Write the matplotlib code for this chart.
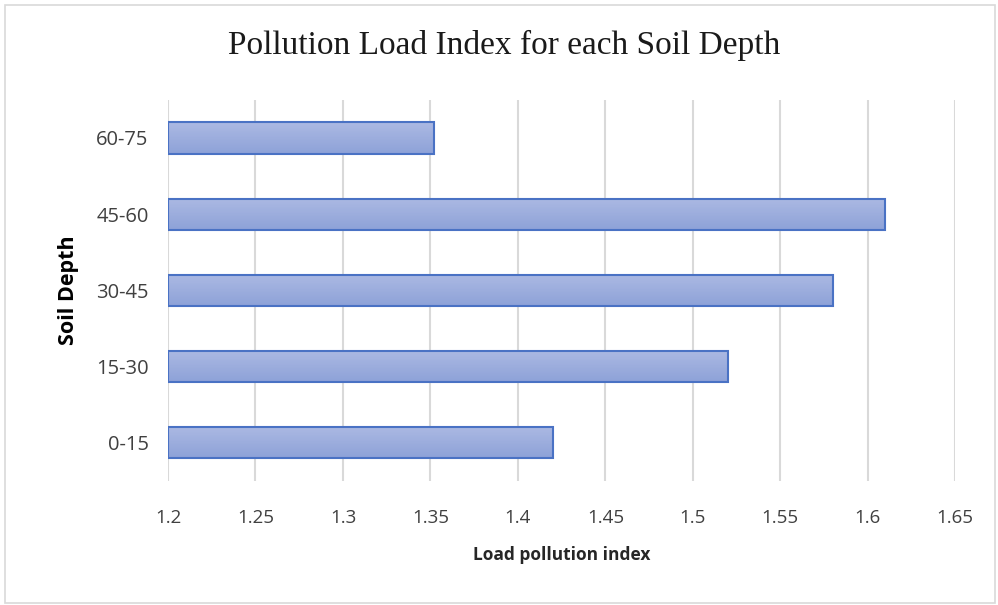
# -*- coding: utf-8 -*-
# Pollution Load Index for each Soil Depth - horizontal bar chart
import matplotlib.pyplot as plt
from matplotlib.patches import Rectangle
import numpy as np

# %% Data
depths = ['0-15', '15-30', '30-45', '45-60', '60-75']
pli = [1.42, 1.52, 1.58, 1.61, 1.352]
xticks = [1.2, 1.25, 1.3, 1.35, 1.4, 1.45, 1.5, 1.55, 1.6, 1.65]

label_font = ['Open Sans', 'DejaVu Sans']

# %% Figure
fig = plt.figure(figsize=(9.98, 6.05), dpi=100)
ax = fig.add_axes([0.1683, 0.205, 0.7889, 0.630])

ypos = np.arange(len(depths))
bars = ax.barh(ypos, [v - 1.2 for v in pli], left=1.2, height=0.41,
               color='#9DAEDF', edgecolor='#4A72C4', linewidth=1.5, zorder=3)

# léger dégradé vertical sur chaque barre (clair en haut, plus foncé en bas)
grad = np.linspace(0, 1, 50).reshape(-1, 1)
cmap = plt.matplotlib.colors.LinearSegmentedColormap.from_list('g', ['#8DA2D8', '#ACB9E3'])
for b in bars:
    x0, y0 = b.get_x(), b.get_y()
    w, h = b.get_width(), b.get_height()
    im = ax.imshow(grad, cmap=cmap, aspect='auto', extent=(x0, x0 + w, y0, y0 + h),
                   origin='lower', zorder=2.5)
    im.set_clip_path(b)
    b.set_facecolor('none')

ax.set_xlim(1.2, 1.65)
ax.set_ylim(-0.5, len(depths) - 0.5)
ax.set_xticks(xticks)
ax.set_xticklabels([f'{t:g}' for t in xticks], family=label_font, fontsize=13.5, color='#404040')
ax.set_yticks(ypos)
ax.set_yticklabels(depths, family=label_font, fontsize=14.5, color='#404040')
ax.tick_params(axis='x', length=0, pad=20)
ax.tick_params(axis='y', length=0, pad=14)
ax.xaxis.grid(True, color='#D9D9D9', linewidth=1.5, zorder=0)
for s in ax.spines.values():
    s.set_visible(False)

ax.set_xlabel('Load pollution index', family=label_font, fontsize=12.5,
              fontweight='bold', color='#262626', labelpad=14)
ax.set_ylabel('Soil Depth', family=label_font, fontsize=15.5,
              fontweight='bold', color='#000000', labelpad=12)
fig.text(0.505, 0.925, 'Pollution Load Index for each Soil Depth', ha='center', va='center',
         family=['Liberation Serif', 'DejaVu Serif'], fontsize=24, color='#1a1a1a')

# cadre de la figure
fig.patches.append(Rectangle((0.005, 0.003), 0.992, 0.988, transform=fig.transFigure,
                             fill=False, edgecolor='#D9D9D9', linewidth=1.2))

fig.savefig('out.png', dpi=100)
